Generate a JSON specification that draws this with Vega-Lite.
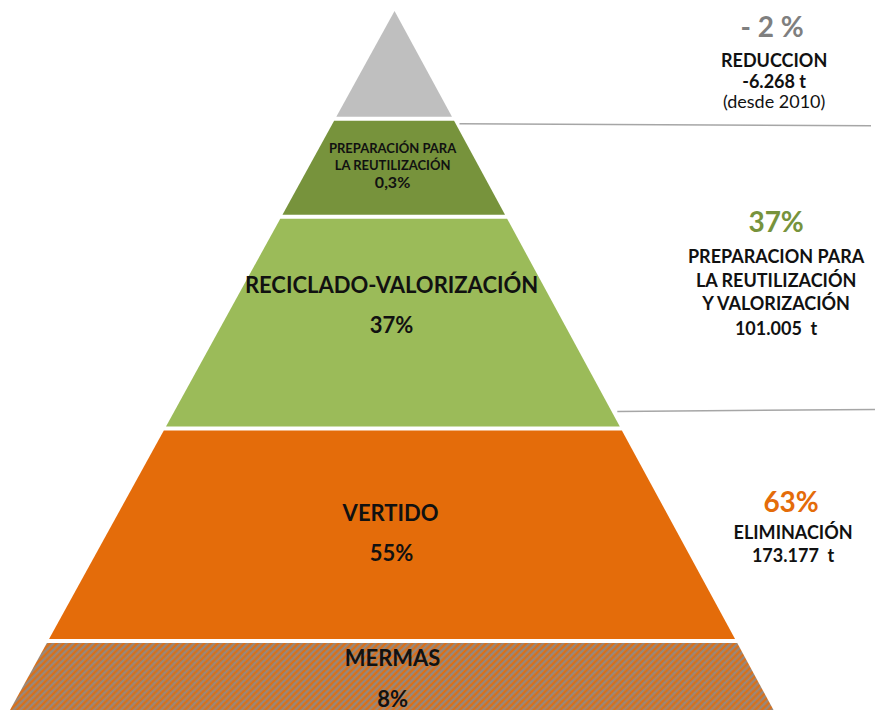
{
  "$schema": "https://vega.github.io/schema/vega-lite/v6.json",
  "width": 876,
  "height": 711,
  "autosize": {"type": "fit", "contains": "padding"},
  "padding": 0,
  "background": "white",
  "config": {"view": {"stroke": null}},
  "datasets": {
    "shapes": [
      {"layer": "reduccion", "y": 11, "xl": 395, "xr": 395},
      {"layer": "reduccion", "y": 117, "xl": 336.7, "xr": 452.5},
      {"layer": "preparacion", "y": 121, "xl": 334.5, "xr": 454.6},
      {"layer": "preparacion", "y": 215, "xl": 282.8, "xr": 505.6},
      {"layer": "reciclado", "y": 219, "xl": 280.6, "xr": 507.7},
      {"layer": "reciclado", "y": 427, "xl": 166.2, "xr": 620.5},
      {"layer": "vertido", "y": 431, "xl": 164, "xr": 622.6},
      {"layer": "vertido", "y": 640, "xl": 49.1, "xr": 735.9},
      {"layer": "mermas", "y": 644, "xl": 46.9, "xr": 738.1},
      {"layer": "mermas", "y": 711, "xl": 10, "xr": 774.4}
    ],
    "rules": [
      {"x": 460, "y": 124, "x2": 872, "y2": 126},
      {"x": 618, "y": 412, "x2": 876, "y2": 410}
    ],
    "labels": [
      {"kind": "small", "label": "PREPARACIÓN PARA", "x": 393, "y": 153},
      {"kind": "small", "label": "LA REUTILIZACIÓN", "x": 393, "y": 170},
      {"kind": "smallpct", "label": "0,3%", "x": 393, "y": 188},
      {"kind": "center", "label": "RECICLADO-VALORIZACIÓN", "x": 392, "y": 293},
      {"kind": "center", "label": "37%", "x": 392, "y": 333},
      {"kind": "center", "label": "VERTIDO", "x": 391, "y": 522},
      {"kind": "center", "label": "55%", "x": 392, "y": 562},
      {"kind": "center", "label": "MERMAS", "x": 393, "y": 667},
      {"kind": "center", "label": "8%", "x": 393, "y": 708},
      {"kind": "bigpct", "label": "- 2 %", "x": 773, "y": 37},
      {"kind": "bigpct", "label": "37%", "x": 777, "y": 232},
      {"kind": "bigpct", "label": "63%", "x": 792, "y": 513},
      {"kind": "right", "label": "REDUCCION", "x": 775, "y": 67},
      {"kind": "right", "label": "-6.268 t", "x": 775, "y": 88},
      {"kind": "note", "label": "(desde 2010)", "x": 775, "y": 108},
      {"kind": "right", "label": "PREPARACION PARA", "x": 777, "y": 263},
      {"kind": "right", "label": "LA REUTILIZACIÓN", "x": 777, "y": 287},
      {"kind": "right", "label": "Y VALORIZACIÓN", "x": 777, "y": 310},
      {"kind": "right", "label": "101.005\u00a0 t", "x": 777, "y": 335},
      {"kind": "right", "label": "ELIMINACIÓN", "x": 794, "y": 540},
      {"kind": "right", "label": "173.177\u00a0 t", "x": 794, "y": 563}
    ]
  },
  "layer": [
    {
      "data": {"name": "shapes"},
      "transform": [{"filter": "datum.layer !== 'mermas'"}],
      "mark": {"type": "area", "orient": "horizontal", "opacity": 1},
      "encoding": {
        "y": {"field": "y", "type": "quantitative", "scale": {"domain": [0, 711], "reverse": true, "nice": false, "zero": false}, "axis": null},
        "x": {"field": "xl", "type": "quantitative", "stack": null, "scale": {"domain": [0, 876], "nice": false, "zero": false}, "axis": null},
        "x2": {"field": "xr"},
        "color": {"field": "layer", "type": "nominal", "legend": null, "scale": {"domain": ["reduccion", "preparacion", "reciclado", "vertido"], "range": ["#BFBFBF", "#77933C", "#9BBB59", "#E46C0A"]}}
      }
    },
    {
      "data": {"name": "shapes"},
      "transform": [{"filter": "datum.layer === 'mermas'"}],
      "mark": {
        "type": "area",
        "orient": "horizontal",
        "opacity": 1,
        "fill": {
          "gradient": "linear",
          "x1": 0, "y1": 0, "x2": 1.09, "y2": 0.0955,
          "stops": [
            {"offset": 0, "color": "#E46C0A"}, {"offset": 0.004, "color": "#8C8C8C"}, {"offset": 0.008, "color": "#E46C0A"}, {"offset": 0.012, "color": "#8C8C8C"}, {"offset": 0.016, "color": "#E46C0A"}, {"offset": 0.02, "color": "#8C8C8C"}, {"offset": 0.024, "color": "#E46C0A"}, {"offset": 0.028, "color": "#8C8C8C"}, {"offset": 0.032, "color": "#E46C0A"}, {"offset": 0.036, "color": "#8C8C8C"},
            {"offset": 0.04, "color": "#E46C0A"}, {"offset": 0.044, "color": "#8C8C8C"}, {"offset": 0.048, "color": "#E46C0A"}, {"offset": 0.052, "color": "#8C8C8C"}, {"offset": 0.056, "color": "#E46C0A"}, {"offset": 0.06, "color": "#8C8C8C"}, {"offset": 0.064, "color": "#E46C0A"}, {"offset": 0.068, "color": "#8C8C8C"}, {"offset": 0.072, "color": "#E46C0A"}, {"offset": 0.076, "color": "#8C8C8C"},
            {"offset": 0.08, "color": "#E46C0A"}, {"offset": 0.084, "color": "#8C8C8C"}, {"offset": 0.088, "color": "#E46C0A"}, {"offset": 0.092, "color": "#8C8C8C"}, {"offset": 0.096, "color": "#E46C0A"}, {"offset": 0.1, "color": "#8C8C8C"}, {"offset": 0.104, "color": "#E46C0A"}, {"offset": 0.108, "color": "#8C8C8C"}, {"offset": 0.112, "color": "#E46C0A"}, {"offset": 0.116, "color": "#8C8C8C"},
            {"offset": 0.12, "color": "#E46C0A"}, {"offset": 0.124, "color": "#8C8C8C"}, {"offset": 0.128, "color": "#E46C0A"}, {"offset": 0.132, "color": "#8C8C8C"}, {"offset": 0.136, "color": "#E46C0A"}, {"offset": 0.14, "color": "#8C8C8C"}, {"offset": 0.144, "color": "#E46C0A"}, {"offset": 0.148, "color": "#8C8C8C"}, {"offset": 0.152, "color": "#E46C0A"}, {"offset": 0.156, "color": "#8C8C8C"},
            {"offset": 0.16, "color": "#E46C0A"}, {"offset": 0.164, "color": "#8C8C8C"}, {"offset": 0.168, "color": "#E46C0A"}, {"offset": 0.172, "color": "#8C8C8C"}, {"offset": 0.176, "color": "#E46C0A"}, {"offset": 0.18, "color": "#8C8C8C"}, {"offset": 0.184, "color": "#E46C0A"}, {"offset": 0.188, "color": "#8C8C8C"}, {"offset": 0.192, "color": "#E46C0A"}, {"offset": 0.196, "color": "#8C8C8C"},
            {"offset": 0.2, "color": "#E46C0A"}, {"offset": 0.204, "color": "#8C8C8C"}, {"offset": 0.208, "color": "#E46C0A"}, {"offset": 0.212, "color": "#8C8C8C"}, {"offset": 0.216, "color": "#E46C0A"}, {"offset": 0.22, "color": "#8C8C8C"}, {"offset": 0.224, "color": "#E46C0A"}, {"offset": 0.228, "color": "#8C8C8C"}, {"offset": 0.232, "color": "#E46C0A"}, {"offset": 0.236, "color": "#8C8C8C"},
            {"offset": 0.24, "color": "#E46C0A"}, {"offset": 0.244, "color": "#8C8C8C"}, {"offset": 0.248, "color": "#E46C0A"}, {"offset": 0.252, "color": "#8C8C8C"}, {"offset": 0.256, "color": "#E46C0A"}, {"offset": 0.26, "color": "#8C8C8C"}, {"offset": 0.264, "color": "#E46C0A"}, {"offset": 0.268, "color": "#8C8C8C"}, {"offset": 0.272, "color": "#E46C0A"}, {"offset": 0.276, "color": "#8C8C8C"},
            {"offset": 0.28, "color": "#E46C0A"}, {"offset": 0.284, "color": "#8C8C8C"}, {"offset": 0.288, "color": "#E46C0A"}, {"offset": 0.292, "color": "#8C8C8C"}, {"offset": 0.296, "color": "#E46C0A"}, {"offset": 0.3, "color": "#8C8C8C"}, {"offset": 0.304, "color": "#E46C0A"}, {"offset": 0.308, "color": "#8C8C8C"}, {"offset": 0.312, "color": "#E46C0A"}, {"offset": 0.316, "color": "#8C8C8C"},
            {"offset": 0.32, "color": "#E46C0A"}, {"offset": 0.324, "color": "#8C8C8C"}, {"offset": 0.328, "color": "#E46C0A"}, {"offset": 0.332, "color": "#8C8C8C"}, {"offset": 0.336, "color": "#E46C0A"}, {"offset": 0.34, "color": "#8C8C8C"}, {"offset": 0.344, "color": "#E46C0A"}, {"offset": 0.348, "color": "#8C8C8C"}, {"offset": 0.352, "color": "#E46C0A"}, {"offset": 0.356, "color": "#8C8C8C"},
            {"offset": 0.36, "color": "#E46C0A"}, {"offset": 0.364, "color": "#8C8C8C"}, {"offset": 0.368, "color": "#E46C0A"}, {"offset": 0.372, "color": "#8C8C8C"}, {"offset": 0.376, "color": "#E46C0A"}, {"offset": 0.38, "color": "#8C8C8C"}, {"offset": 0.384, "color": "#E46C0A"}, {"offset": 0.388, "color": "#8C8C8C"}, {"offset": 0.392, "color": "#E46C0A"}, {"offset": 0.396, "color": "#8C8C8C"},
            {"offset": 0.4, "color": "#E46C0A"}, {"offset": 0.404, "color": "#8C8C8C"}, {"offset": 0.408, "color": "#E46C0A"}, {"offset": 0.412, "color": "#8C8C8C"}, {"offset": 0.416, "color": "#E46C0A"}, {"offset": 0.42, "color": "#8C8C8C"}, {"offset": 0.424, "color": "#E46C0A"}, {"offset": 0.428, "color": "#8C8C8C"}, {"offset": 0.432, "color": "#E46C0A"}, {"offset": 0.436, "color": "#8C8C8C"},
            {"offset": 0.44, "color": "#E46C0A"}, {"offset": 0.444, "color": "#8C8C8C"}, {"offset": 0.448, "color": "#E46C0A"}, {"offset": 0.452, "color": "#8C8C8C"}, {"offset": 0.456, "color": "#E46C0A"}, {"offset": 0.46, "color": "#8C8C8C"}, {"offset": 0.464, "color": "#E46C0A"}, {"offset": 0.468, "color": "#8C8C8C"}, {"offset": 0.472, "color": "#E46C0A"}, {"offset": 0.476, "color": "#8C8C8C"},
            {"offset": 0.48, "color": "#E46C0A"}, {"offset": 0.484, "color": "#8C8C8C"}, {"offset": 0.488, "color": "#E46C0A"}, {"offset": 0.492, "color": "#8C8C8C"}, {"offset": 0.496, "color": "#E46C0A"}, {"offset": 0.5, "color": "#8C8C8C"}, {"offset": 0.504, "color": "#E46C0A"}, {"offset": 0.508, "color": "#8C8C8C"}, {"offset": 0.512, "color": "#E46C0A"}, {"offset": 0.516, "color": "#8C8C8C"},
            {"offset": 0.52, "color": "#E46C0A"}, {"offset": 0.524, "color": "#8C8C8C"}, {"offset": 0.528, "color": "#E46C0A"}, {"offset": 0.532, "color": "#8C8C8C"}, {"offset": 0.536, "color": "#E46C0A"}, {"offset": 0.54, "color": "#8C8C8C"}, {"offset": 0.544, "color": "#E46C0A"}, {"offset": 0.548, "color": "#8C8C8C"}, {"offset": 0.552, "color": "#E46C0A"}, {"offset": 0.556, "color": "#8C8C8C"},
            {"offset": 0.56, "color": "#E46C0A"}, {"offset": 0.564, "color": "#8C8C8C"}, {"offset": 0.568, "color": "#E46C0A"}, {"offset": 0.572, "color": "#8C8C8C"}, {"offset": 0.576, "color": "#E46C0A"}, {"offset": 0.58, "color": "#8C8C8C"}, {"offset": 0.584, "color": "#E46C0A"}, {"offset": 0.588, "color": "#8C8C8C"}, {"offset": 0.592, "color": "#E46C0A"}, {"offset": 0.596, "color": "#8C8C8C"},
            {"offset": 0.6, "color": "#E46C0A"}, {"offset": 0.604, "color": "#8C8C8C"}, {"offset": 0.608, "color": "#E46C0A"}, {"offset": 0.612, "color": "#8C8C8C"}, {"offset": 0.616, "color": "#E46C0A"}, {"offset": 0.62, "color": "#8C8C8C"}, {"offset": 0.624, "color": "#E46C0A"}, {"offset": 0.628, "color": "#8C8C8C"}, {"offset": 0.632, "color": "#E46C0A"}, {"offset": 0.636, "color": "#8C8C8C"},
            {"offset": 0.64, "color": "#E46C0A"}, {"offset": 0.644, "color": "#8C8C8C"}, {"offset": 0.648, "color": "#E46C0A"}, {"offset": 0.652, "color": "#8C8C8C"}, {"offset": 0.656, "color": "#E46C0A"}, {"offset": 0.66, "color": "#8C8C8C"}, {"offset": 0.664, "color": "#E46C0A"}, {"offset": 0.668, "color": "#8C8C8C"}, {"offset": 0.672, "color": "#E46C0A"}, {"offset": 0.676, "color": "#8C8C8C"},
            {"offset": 0.68, "color": "#E46C0A"}, {"offset": 0.684, "color": "#8C8C8C"}, {"offset": 0.688, "color": "#E46C0A"}, {"offset": 0.692, "color": "#8C8C8C"}, {"offset": 0.696, "color": "#E46C0A"}, {"offset": 0.7, "color": "#8C8C8C"}, {"offset": 0.704, "color": "#E46C0A"}, {"offset": 0.708, "color": "#8C8C8C"}, {"offset": 0.712, "color": "#E46C0A"}, {"offset": 0.716, "color": "#8C8C8C"},
            {"offset": 0.72, "color": "#E46C0A"}, {"offset": 0.724, "color": "#8C8C8C"}, {"offset": 0.728, "color": "#E46C0A"}, {"offset": 0.732, "color": "#8C8C8C"}, {"offset": 0.736, "color": "#E46C0A"}, {"offset": 0.74, "color": "#8C8C8C"}, {"offset": 0.744, "color": "#E46C0A"}, {"offset": 0.748, "color": "#8C8C8C"}, {"offset": 0.752, "color": "#E46C0A"}, {"offset": 0.756, "color": "#8C8C8C"},
            {"offset": 0.76, "color": "#E46C0A"}, {"offset": 0.764, "color": "#8C8C8C"}, {"offset": 0.768, "color": "#E46C0A"}, {"offset": 0.772, "color": "#8C8C8C"}, {"offset": 0.776, "color": "#E46C0A"}, {"offset": 0.78, "color": "#8C8C8C"}, {"offset": 0.784, "color": "#E46C0A"}, {"offset": 0.788, "color": "#8C8C8C"}, {"offset": 0.792, "color": "#E46C0A"}, {"offset": 0.796, "color": "#8C8C8C"},
            {"offset": 0.8, "color": "#E46C0A"}, {"offset": 0.804, "color": "#8C8C8C"}, {"offset": 0.808, "color": "#E46C0A"}, {"offset": 0.812, "color": "#8C8C8C"}, {"offset": 0.816, "color": "#E46C0A"}, {"offset": 0.82, "color": "#8C8C8C"}, {"offset": 0.824, "color": "#E46C0A"}, {"offset": 0.828, "color": "#8C8C8C"}, {"offset": 0.832, "color": "#E46C0A"}, {"offset": 0.836, "color": "#8C8C8C"},
            {"offset": 0.84, "color": "#E46C0A"}, {"offset": 0.844, "color": "#8C8C8C"}, {"offset": 0.848, "color": "#E46C0A"}, {"offset": 0.852, "color": "#8C8C8C"}, {"offset": 0.856, "color": "#E46C0A"}, {"offset": 0.86, "color": "#8C8C8C"}, {"offset": 0.864, "color": "#E46C0A"}, {"offset": 0.868, "color": "#8C8C8C"}, {"offset": 0.872, "color": "#E46C0A"}, {"offset": 0.876, "color": "#8C8C8C"},
            {"offset": 0.88, "color": "#E46C0A"}, {"offset": 0.884, "color": "#8C8C8C"}, {"offset": 0.888, "color": "#E46C0A"}, {"offset": 0.892, "color": "#8C8C8C"}, {"offset": 0.896, "color": "#E46C0A"}, {"offset": 0.9, "color": "#8C8C8C"}, {"offset": 0.904, "color": "#E46C0A"}, {"offset": 0.908, "color": "#8C8C8C"}, {"offset": 0.912, "color": "#E46C0A"}, {"offset": 0.916, "color": "#8C8C8C"},
            {"offset": 0.92, "color": "#E46C0A"}, {"offset": 0.924, "color": "#8C8C8C"}, {"offset": 0.928, "color": "#E46C0A"}, {"offset": 0.932, "color": "#8C8C8C"}, {"offset": 0.936, "color": "#E46C0A"}, {"offset": 0.94, "color": "#8C8C8C"}, {"offset": 0.944, "color": "#E46C0A"}, {"offset": 0.948, "color": "#8C8C8C"}, {"offset": 0.952, "color": "#E46C0A"}, {"offset": 0.956, "color": "#8C8C8C"},
            {"offset": 0.96, "color": "#E46C0A"}, {"offset": 0.964, "color": "#8C8C8C"}, {"offset": 0.968, "color": "#E46C0A"}, {"offset": 0.972, "color": "#8C8C8C"}, {"offset": 0.976, "color": "#E46C0A"}, {"offset": 0.98, "color": "#8C8C8C"}, {"offset": 0.984, "color": "#E46C0A"}, {"offset": 0.988, "color": "#8C8C8C"}, {"offset": 0.992, "color": "#E46C0A"}, {"offset": 0.996, "color": "#8C8C8C"},
            {"offset": 1, "color": "#E46C0A"}
          ]
        }
      },
      "encoding": {
        "y": {"field": "y", "type": "quantitative"},
        "x": {"field": "xl", "type": "quantitative", "stack": null},
        "x2": {"field": "xr"}
      }
    },
    {
      "data": {"name": "rules"},
      "mark": {"type": "rule", "color": "#A6A6A6", "strokeWidth": 1.5},
      "encoding": {
        "x": {"field": "x", "type": "quantitative"},
        "y": {"field": "y", "type": "quantitative"},
        "x2": {"field": "x2"},
        "y2": {"field": "y2"}
      }
    },
    {
      "data": {"name": "labels"},
      "transform": [{"filter": "datum.kind === 'small'"}],
      "mark": {"type": "text", "font": "Lato", "fontWeight": "bold", "fontSize": 13, "color": "#111111", "align": "center", "baseline": "alphabetic"},
      "encoding": {
        "x": {"field": "x", "type": "quantitative"},
        "y": {"field": "y", "type": "quantitative"},
        "text": {"field": "label"}
      }
    },
    {
      "data": {"name": "labels"},
      "transform": [{"filter": "datum.kind === 'smallpct'"}],
      "mark": {"type": "text", "font": "Lato", "fontWeight": "bold", "fontSize": 16, "color": "#111111", "align": "center", "baseline": "alphabetic"},
      "encoding": {
        "x": {"field": "x", "type": "quantitative"},
        "y": {"field": "y", "type": "quantitative"},
        "text": {"field": "label"}
      }
    },
    {
      "data": {"name": "labels"},
      "transform": [{"filter": "datum.kind === 'center'"}],
      "mark": {"type": "text", "font": "Lato", "fontWeight": "bold", "fontSize": 22, "color": "#111111", "align": "center", "baseline": "alphabetic"},
      "encoding": {
        "x": {"field": "x", "type": "quantitative"},
        "y": {"field": "y", "type": "quantitative"},
        "text": {"field": "label"}
      }
    },
    {
      "data": {"name": "labels"},
      "transform": [{"filter": "datum.kind === 'bigpct'"}],
      "mark": {"type": "text", "font": "Lato", "fontWeight": "bold", "fontSize": 28, "align": "center", "baseline": "alphabetic"},
      "encoding": {
        "x": {"field": "x", "type": "quantitative"},
        "y": {"field": "y", "type": "quantitative"},
        "text": {"field": "label"},
        "color": {"field": "label", "type": "nominal", "legend": null, "scale": {"domain": ["- 2 %", "37%", "63%"], "range": ["#7F7F7F", "#77933C", "#E46C0A"]}}
      }
    },
    {
      "data": {"name": "labels"},
      "transform": [{"filter": "datum.kind === 'right'"}],
      "mark": {"type": "text", "font": "Lato", "fontWeight": "bold", "fontSize": 18, "color": "#111111", "align": "center", "baseline": "alphabetic"},
      "encoding": {
        "x": {"field": "x", "type": "quantitative"},
        "y": {"field": "y", "type": "quantitative"},
        "text": {"field": "label"}
      }
    },
    {
      "data": {"name": "labels"},
      "transform": [{"filter": "datum.kind === 'note'"}],
      "mark": {"type": "text", "font": "Lato", "fontWeight": "normal", "fontSize": 18, "color": "#111111", "align": "center", "baseline": "alphabetic"},
      "encoding": {
        "x": {"field": "x", "type": "quantitative"},
        "y": {"field": "y", "type": "quantitative"},
        "text": {"field": "label"}
      }
    }
  ],
  "resolve": {"scale": {"color": "independent"}}
}
